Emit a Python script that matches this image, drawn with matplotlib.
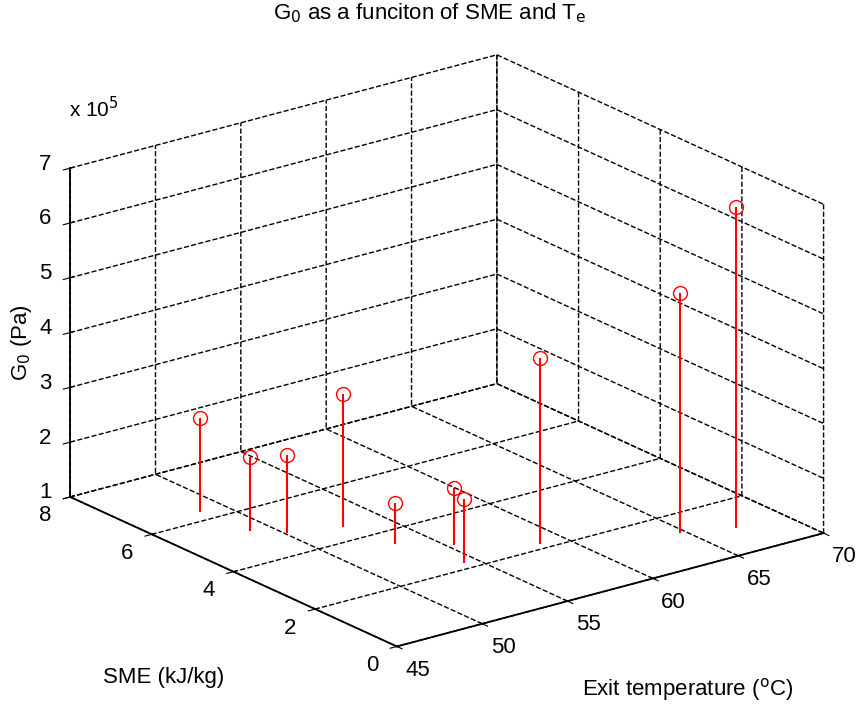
import matplotlib.pyplot as plt
import numpy as np
from mpl_toolkits.mplot3d import proj3d

plt.rcParams['font.family'] = ['Liberation Sans', 'DejaVu Sans']
plt.rcParams['grid.linestyle'] = '--'
plt.rcParams['grid.color'] = 'k'
plt.rcParams['grid.linewidth'] = 1.0

# Exit temperature (C), SME (kJ/kg), G0 (x 10^5 Pa)
temp = np.array([48.6, 48.9, 50.1, 52.7, 53.2, 55.3, 54.2, 58.6, 64.7, 67.2])
sme = np.array([6.33, 5.22, 4.81, 4.53, 3.47, 2.91, 2.21, 2.17, 1.30, 0.97])
g0 = np.array([2.71, 2.36, 2.43, 3.43, 1.76, 2.05, 2.18, 4.39, 5.37, 6.85])

xticks = [45, 50, 55, 60, 65, 70]
yticks = [0, 2, 4, 6, 8]
zticks = [1, 2, 3, 4, 5, 6, 7]

fig = plt.figure(figsize=(8.59, 7.07), dpi=100)
ax = fig.add_axes([0.0186, 0, 0.9814, 0.9816], projection='3d')
ax.set_proj_type('ortho')
ax.view_init(elev=20.4, azim=-127.3)
ax.set_box_aspect((1, 1.005, 0.654), zoom=1.1716)

ml, sl, bl = ax.stem(temp, sme, g0, bottom=1, linefmt='r-', markerfmt='ro', basefmt=' ')
ml.set_markerfacecolor('none')
ml.set_markersize(10)
sl.set_linewidth(1.5)

ax.set_xlim(45, 70)
ax.set_ylim(0, 8)
ax.set_zlim(1, 7)
ax.set_xticks(xticks)
ax.set_yticks(yticks)
ax.set_zticks(zticks)
ax.set_xticklabels([])
ax.set_yticklabels([])
ax.set_zticklabels([])

for axis in (ax.xaxis, ax.yaxis, ax.zaxis):
    axis.pane.set_facecolor((1, 1, 1, 0))
    axis.pane.set_edgecolor((1, 1, 1, 0))
    axis.line.set_linewidth(1.3)

# solid z axis along the left back edge
ax.plot([xticks[0], xticks[0]], [yticks[-1], yticks[-1]], [zticks[0], zticks[-1]], color='k', lw=1.3)

fig.canvas.draw()
M = ax.get_proj()


def label3d(x, y, z, s):
    px, py, _ = proj3d.proj_transform(x, y, z, M)
    ax.text2D(px, py, s, transform=ax.transData, ha='center', va='center', fontsize=16)


# tick labels placed like MATLAB's (next to the outward tick marks)
for t in xticks:
    label3d(t - 1.15, yticks[0] - 0.99, zticks[0], str(t))
for t in yticks:
    label3d(xticks[0] - 2.47, t - 0.42, zticks[0], str(t))
for t in zticks:
    label3d(xticks[0] - 0.6, yticks[-1] + 0.36, t, str(t))

fig.text(0.5, 0.981, r'G$_0$ as a funciton of SME and T$_\mathrm{e}$', ha='center', va='center', fontsize=16)
fig.text(0.025, 0.516, r'G$_0$ (Pa)', rotation=90, ha='center', va='center', fontsize=16)
fig.text(0.19, 0.042, 'SME (kJ/kg)', ha='center', va='center', fontsize=16)
fig.text(0.80, 0.025, r'Exit temperature ($^\mathrm{o}$C)', ha='center', va='center', fontsize=16)
fig.text(0.08, 0.847, r'x 10$^5$', ha='left', va='center', fontsize=15)

fig.savefig('out.png')
